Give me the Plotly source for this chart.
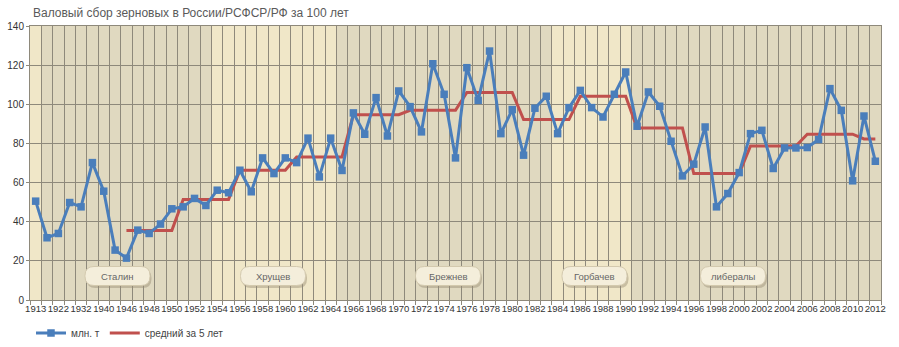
import plotly.graph_objects as go

# ---------------- data ----------------
categories = [
    "1913", "1920", "1922", "1928", "1932", "1937", "1940", "1945",
    "1946", "1947", "1948", "1949", "1950", "1951", "1952", "1953", "1954", "1955",
    "1956", "1957", "1958", "1959", "1960", "1961", "1962", "1963", "1964", "1965",
    "1966", "1967", "1968", "1969", "1970", "1971", "1972", "1973", "1974", "1975",
    "1976", "1977", "1978", "1979", "1980", "1981", "1982", "1983", "1984", "1985",
    "1986", "1987", "1988", "1989", "1990", "1991", "1992", "1993", "1994", "1995",
    "1996", "1997", "1998", "1999", "2000", "2001", "2002", "2003", "2004", "2005",
    "2006", "2007", "2008", "2009", "2010", "2011", "2012",
]

grain_mt = [
    50.5, 31.8, 34.0, 49.8, 47.6, 70.2, 55.6, 25.5,
    21.4, 35.7, 34.0, 38.8, 46.6, 47.6, 51.9, 48.3, 56.1, 54.8,
    66.3, 55.3, 72.6, 64.6, 72.6, 70.2, 82.7, 62.9, 82.7, 66.2,
    95.6, 84.7, 103.4, 83.8, 106.8, 98.8, 85.9, 120.7, 105.1, 72.6,
    118.7, 102.0, 127.2, 85.0, 97.3, 74.0, 98.0, 104.1, 85.0, 98.3,
    107.1, 98.3, 93.5, 105.1, 116.5, 88.8, 106.3, 99.0, 81.1, 63.4,
    69.4, 88.4, 47.6, 54.4, 65.1, 85.0, 86.7, 67.2, 77.7, 77.7,
    77.9, 82.0, 108.0, 96.9, 60.9, 94.0, 70.9,
]

avg_5y = [
    None, None, None, None, None, None, None, None,
    35.5, 35.5, 35.5, 35.5, 35.5, 51.4, 51.4, 51.4, 51.4, 51.4,
    66.3, 66.3, 66.3, 66.3, 66.3, 73.1, 73.1, 73.1, 73.1, 73.1,
    94.7, 94.7, 94.7, 94.7, 94.7, 96.9, 96.9, 96.9, 96.9, 96.9,
    106.0, 106.0, 106.0, 106.0, 106.0, 92.2, 92.2, 92.2, 92.2, 92.2,
    104.1, 104.1, 104.1, 104.1, 104.1, 87.9, 87.9, 87.9, 87.9, 87.9,
    64.6, 64.6, 64.6, 64.6, 64.6, 78.7, 78.7, 78.7, 78.7, 78.7,
    84.7, 84.7, 84.7, 84.7, 84.7, 82.3, 82.3,
]

tick_text = [c if i % 2 == 0 else "" for i, c in enumerate(categories)]

# darker background bands (first / last category of each)
dark_band_start = ["1920", "1965", "1991"]
dark_band_end = ["1953", "1983", "2012"]

era_names = ["Сталин", "Хрущев", "Брежнев", "Горбачев", "либералы"]
era_label_px = [117.5, 273.0, 448.0, 594.5, 733.0]   # label box centres (layout)

title_text = "Валовый сбор зерновых в России/РСФСР/РФ за 100 лет"

# ---------------- layout geometry ----------------
W, H = 899, 347
ML, MR, MT, MB = 30, 18, 26, 47
PW, PH = W - ML - MR, H - MT - MB

def px_x(px):
    return (px - ML) / PW

def px_y(py):
    return (MT + PH - py) / PH

LIGHT = "#f0e7c8"
DARK = "#e0d9c0"
GRID = "#8e897b"
BLUE = "#4a7ebb"
RED = "#c0504d"
FONT = "Liberation Sans, Arial, sans-serif"

fig = go.Figure()

fig.add_trace(go.Scatter(
    x=categories, y=avg_5y, mode="lines", name="средний за 5 лет",
    line=dict(color=RED, width=3), legendrank=2, connectgaps=False,
))
fig.add_trace(go.Scatter(
    x=categories, y=grain_mt, mode="lines+markers", name="млн. т",
    line=dict(color=BLUE, width=3),
    marker=dict(symbol="square", size=7.5, color=BLUE),
    legendrank=1,
))

shapes = []
for s, e in zip(dark_band_start, dark_band_end):
    i0 = categories.index(s)
    i1 = categories.index(e)
    shapes.append(dict(
        type="rect", xref="x", yref="y", x0=i0 - 0.5, x1=i1 + 0.5, y0=0, y1=140,
        fillcolor=DARK, line=dict(width=0), layer="below",
    ))


def pill(cx, cy, w, h, r, dx=0.0, dy=0.0):
    x0, x1 = cx - w / 2 + dx, cx + w / 2 + dx
    y0, y1 = cy - h / 2 + dy, cy + h / 2 + dy
    pts = [
        ("M", [(x0 + r, y0)]),
        ("L", [(x1 - r, y0)]),
        ("Q", [(x1, y0), (x1, y0 + r)]),
        ("L", [(x1, y1 - r)]),
        ("Q", [(x1, y1), (x1 - r, y1)]),
        ("L", [(x0 + r, y1)]),
        ("Q", [(x0, y1), (x0, y1 - r)]),
        ("L", [(x0, y0 + r)]),
        ("Q", [(x0, y0), (x0 + r, y0)]),
    ]
    out = []
    for cmd, ps in pts:
        out.append(cmd + " " + " ".join(f"{px_x(a):.5f},{px_y(b):.5f}" for a, b in ps))
    return " ".join(out) + " Z"


annotations = []
for name, cx in zip(era_names, era_label_px):
    shapes.append(dict(type="path", xref="paper", yref="paper",
                       path=pill(cx, 276.5, 65, 19, 9, dx=1.5, dy=2.0),
                       fillcolor="rgba(150,140,115,0.45)", line=dict(width=0),
                       layer="above"))
    shapes.append(dict(type="path", xref="paper", yref="paper",
                       path=pill(cx, 276.0, 65, 19, 9),
                       fillcolor="#f4eedb", line=dict(color="#d3c9ae", width=1),
                       layer="above"))
    annotations.append(dict(
        xref="paper", yref="paper", x=px_x(cx), y=px_y(276.0),
        text=name, showarrow=False, xanchor="center", yanchor="middle",
        font=dict(family=FONT, size=9.5, color="#666666"),
    ))

annotations.append(dict(
    xref="paper", yref="paper", x=px_x(31), y=px_y(13),
    text=title_text, showarrow=False, xanchor="left", yanchor="middle",
    font=dict(family=FONT, size=12, color="#5a5a5a"),
))

fig.update_layout(
    width=W, height=H, autosize=False,
    margin=dict(l=ML, r=MR, t=MT, b=MB, pad=0, autoexpand=False),
    paper_bgcolor="white", plot_bgcolor=LIGHT,
    font=dict(family=FONT, size=10, color="#333333"),
    shapes=shapes, annotations=annotations,
    showlegend=True,
    legend=dict(orientation="h", x=px_x(31), xanchor="left",
                y=px_y(333), yanchor="middle",
                font=dict(family=FONT, size=10, color="#444444"),
                bgcolor="rgba(0,0,0,0)", itemwidth=30),
    xaxis=dict(
        type="category", range=[-0.5, len(categories) - 0.5],
        tickmode="array", tickvals=categories, ticktext=tick_text,
        tickson="boundaries", ticks="outside", ticklen=4, tickcolor=GRID,
        showgrid=True, gridcolor=GRID, gridwidth=1,
        showline=True, linecolor=GRID, linewidth=1, mirror=True,
        tickangle=0, tickfont=dict(family=FONT, size=9.5, color="#333333"),
        zeroline=False,
    ),
    yaxis=dict(
        range=[0, 140], tick0=0, dtick=20,
        ticks="outside", ticklen=3, tickcolor=GRID,
        showgrid=True, gridcolor=GRID, gridwidth=1,
        showline=True, linecolor=GRID, linewidth=1, mirror=True,
        tickfont=dict(family=FONT, size=10, color="#333333"),
        zeroline=False,
    ),
)

fig.write_html("out.html")
